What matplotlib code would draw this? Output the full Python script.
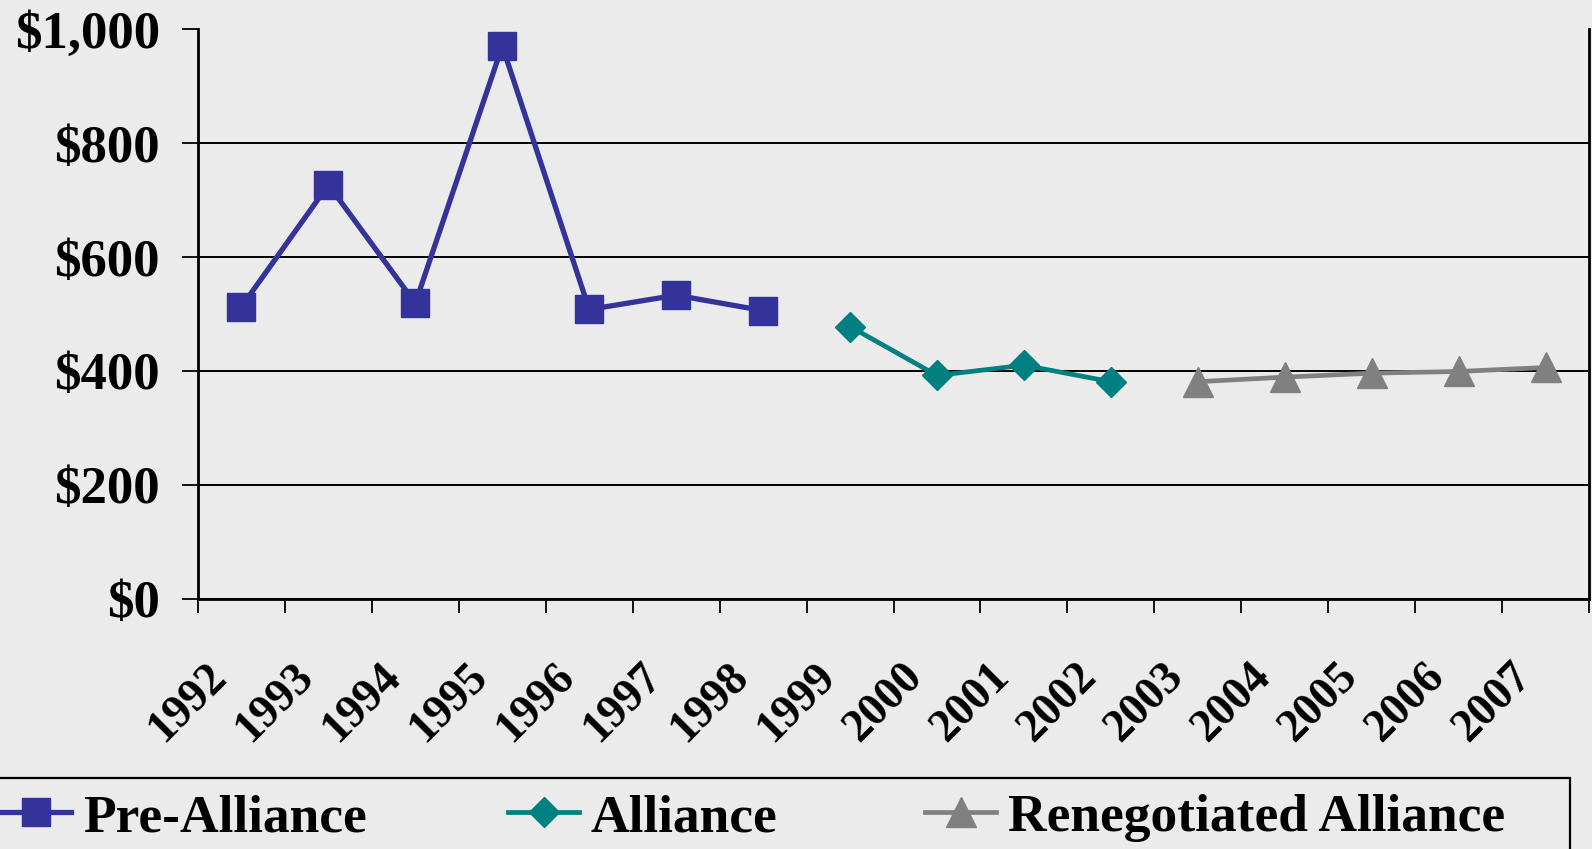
import matplotlib
matplotlib.use("Agg")
import matplotlib.pyplot as plt
from matplotlib.patches import Rectangle
from matplotlib.ticker import FixedLocator, NullFormatter, FuncFormatter
from matplotlib.transforms import offset_copy
import numpy as np

# ---- data ----
years = ["1992", "1993", "1994", "1995", "1996", "1997", "1998", "1999",
         "2000", "2001", "2002", "2003", "2004", "2005", "2006", "2007"]
pre_years = ["1992", "1993", "1994", "1995", "1996", "1997", "1998"]
pre_values = [513, 727, 519, 971, 508, 533, 506]
alliance_years = ["1999", "2000", "2001", "2002"]
alliance_values = [478, 392, 410, 381]
reneg_years = ["2003", "2004", "2005", "2006", "2007"]
reneg_values = [381, 389, 396, 399, 406]
y_ticks = [0, 200, 400, 600, 800, 1000]
series_names = ["Pre-Alliance", "Alliance", "Renegotiated Alliance"]

# ---- style ----
BG = "#EBEBEB"
FONT = "Liberation Serif"
FS = 38
XFS = 33
LFS = 38.5
plt.rcParams["font.family"] = [FONT, "DejaVu Serif"]
plt.rcParams["font.weight"] = "bold"

W, H = 1592, 849
fig = plt.figure(figsize=(W / 100, H / 100), dpi=100, facecolor=BG)
ax = fig.add_axes([198 / W, 1 - 598.5 / H, (1589 - 198) / W, (598.5 - 29.5) / H])
ax.set_facecolor(BG)

idx = {y: i for i, y in enumerate(years)}
l1, = ax.plot([idx[y] for y in pre_years], pre_values, color="#333399", lw=3.8,
              marker="s", ms=19.5, mec="#333399", mfc="#333399", zorder=3)
l2, = ax.plot([idx[y] for y in alliance_years], alliance_values, color="#008080", lw=3.4,
              marker="D", ms=15.5, mec="#008080", mfc="#008080", zorder=3)
l3, = ax.plot([idx[y] for y in reneg_years], reneg_values, color="#808080", lw=3.4,
              marker="^", ms=21, mec="#808080", mfc="#808080", zorder=3)

ax.set_xlim(-0.5, len(years) - 0.5)
ax.set_ylim(0, 1000)

ax.xaxis.set_major_locator(FixedLocator(np.arange(-0.5, len(years), 1.0)))
ax.xaxis.set_major_formatter(NullFormatter())
ax.tick_params(axis="x", which="major", direction="out", length=10, width=1.3, color="black")

# rotated category labels
lab_trans = offset_copy(ax.get_xaxis_transform(), fig=fig, x=-13, y=-80, units="dots")
for i, yr in enumerate(years):
    ax.text(i, 0, yr, transform=lab_trans, rotation=45, rotation_mode="anchor",
            ha="right", va="baseline", fontsize=XFS, fontweight="bold", family=FONT,
            clip_on=False)

ax.set_yticks(y_ticks)
ax.yaxis.set_major_formatter(FuncFormatter(lambda v, p: "${:,.0f}".format(v)))
ax.tick_params(axis="y", direction="out", length=11.5, width=1.3, color="black", pad=16)
for lab in ax.get_yticklabels():
    lab.set_fontsize(FS)
    lab.set_fontweight("bold")
    lab.set_family(FONT)

ax.grid(axis="y", color="black", lw=1.4)
ax.set_axisbelow(True)
for s in ["left", "bottom", "right"]:
    ax.spines[s].set_color("black")
    ax.spines[s].set_linewidth(2)
ax.spines["top"].set_visible(False)

# ---- legend (frame + three entries) ----
top = 1 - 778 / H
fig.patches.append(Rectangle((-0.02, top - 0.3), 1570 / W + 0.02, 0.3,
                             transform=fig.transFigure, fill=False,
                             edgecolor="black", lw=1.6, clip_on=False))
leg_y = 1 - 818 / H
for handle, name, x0 in zip([l1, l2, l3], series_names, [0, 508, 925]):
    fig.legend([handle], [name], loc="center left", bbox_to_anchor=(x0 / W, leg_y),
               frameon=False, borderpad=0, borderaxespad=0, handlelength=1.33,
               handletextpad=0.22, prop={"family": FONT, "weight": "bold", "size": LFS})

fig.savefig("out.png", dpi=100, facecolor=BG)
